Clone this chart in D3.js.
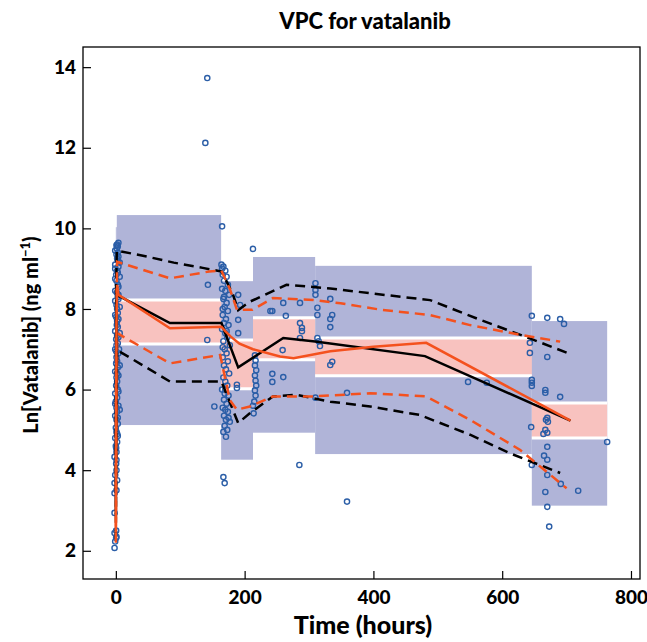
<!DOCTYPE html>
<html>
<head>
<meta charset="utf-8">
<script src="https://cdn.jsdelivr.net/npm/d3@7"></script>
<style>
  body { margin: 0; background: #fff; }
  text { font-family: Lato, "Open Sans", sans-serif; font-weight: 900; }
</style>
</head>
<body>
<div id="vis"></div>
<script>
// bins of the VPC (time in hours, value in ln ng/ml)
const binStart = [0, 1.5, 163.5, 213, 309.5, 646];
const binEnd = [1.5, 163.5, 213, 309.5, 646, 763];
const piLow = [4.9, 5.12, 4.26, 4.93, 4.4, 3.12];
const piHigh = [10.03, 10.33, 8.69, 9.29, 9.07, 7.7];
const ciLow = [null, 7.13, 6.02, 6.74, 6.34, 4.8];
const ciHigh = [null, 8.22, 7.23, 7.78, 7.28, 5.67];

// observed median and percentiles (black)
const obsMedT = [0, 0.5, 1.5, 84, 164, 190, 260, 309.5, 480, 706];
const obsMed = [2.9, 6.5, 8.35, 7.65, 7.65, 6.55, 7.28, 7.19, 6.83, 5.23];
const obsP95T = [0, 0.5, 1.5, 48, 90, 135, 164, 181, 190, 208, 265, 333, 395, 488, 566, 643, 706];
const obsP95 = [4.4, 8.6, 9.45, 9.3, 9.15, 9.02, 8.93, 8.4, 7.97, 8.18, 8.6, 8.51, 8.39, 8.22, 7.73, 7.27, 6.88];
const obsP5T = [0, 0.5, 2, 84, 164, 190, 208, 244, 280, 333, 395, 472, 550, 612, 690];
const obsP5 = [2.3, 4.5, 6.98, 6.2, 6.2, 5.17, 5.41, 5.83, 5.87, 5.7, 5.58, 5.37, 4.88, 4.42, 3.93];

// predicted median and percentiles (orange)
const predMedT = [0, 0.5, 1, 2, 4, 84, 164, 170, 178, 192, 213, 255, 276, 333, 400, 482, 706];
const predMed = [2.45, 5.5, 7.6, 8.6, 8.35, 7.52, 7.56, 7.45, 7.32, 7.14, 7.0, 6.82, 6.78, 6.95, 7.06, 7.16, 5.23];
const predP95T = [0, 0.5, 2, 84, 145, 164, 177, 188, 212, 244, 307, 349, 412, 488, 550, 628, 690];
const predP95 = [3.5, 7.5, 9.17, 8.76, 8.93, 8.95, 8.5, 7.98, 7.98, 8.27, 8.22, 8.14, 7.98, 7.85, 7.6, 7.36, 7.19];
const predP5T = [0, 0.5, 2, 84, 162, 177, 188, 208, 244, 307, 395, 482, 550, 628, 700];
const predP5 = [2.2, 4.0, 7.4, 6.65, 6.86, 5.74, 5.5, 5.58, 5.83, 5.83, 5.91, 5.83, 5.25, 4.5, 3.55];

// observations [time, ln conc]
const obsPoints = [
  [-2,2.07],[-1,2.23],[0.5,2.32],[1,2.35],[-2,2.44],[0.5,2.5],[-2,2.94],[-2,3.43],[1,3.5],[-2,3.68],
  [2,3.75],[-1,3.88],[1,4.0],[0.5,4.16],[-2,4.33],[1,4.45],[0,4.6],[2,4.7],[-1,4.8],[1,4.95],
  [0,5.05],[3,5.15],[1,5.25],[-1,5.35],[2,5.45],[1,5.55],[4,5.6],[0,5.7],[2,5.8],[-1,5.9],
  [3,6.0],[0.5,6.1],[2,6.2],[1,6.3],[4,6.35],[-1,6.45],[3,6.55],[0.5,6.65],[2,6.7],[1,6.8],
  [4,6.9],[-1,7.0],[1,7.1],[3,7.15],[0.5,7.25],[2,7.35],[6,7.4],[-1,7.45],[3,7.55],[1.5,7.6],
  [2,7.7],[4,7.75],[-1,7.85],[3,7.9],[2,8.0],[6,8.05],[1,8.1],[-1,8.2],[4,8.25],[3,8.3],
  [1.5,8.4],[-1,8.45],[4,8.55],[3,8.6],[1,8.7],[-1,8.75],[6,8.8],[3,8.9],[2,8.95],[4,9.05],
  [-1,9.1],[3,9.2],[2,9.25],[4,9.3],[3,9.4],[-1,9.45],[1.5,9.5],[3,9.55],[2,9.6],[4,9.64],
  [0.5,4.55],[2,4.9],[3,5.3],[-1,5.65],[4,5.95],[2,6.4],[0.5,6.95],[4,7.3],[0.5,7.8],[4,8.35],
  [0.5,8.85],[6,9.15],[1,9.35],[-1,9.0],[6,6.6],[6,5.5],[1,4.25],[3,4.85],[1,9.58],[5,7.0],
  [165,10.05],[164,9.1],[167,9.05],[170,8.95],[166,8.85],[172,8.8],[168,8.7],[174,8.6],[165,8.5],[170,8.45],
  [176,8.35],[167,8.25],[172,8.15],[169,8.05],[174,7.95],[166,7.85],[171,7.75],[168,7.65],[175,7.6],[165,7.5],
  [170,7.4],[173,7.3],[167,7.2],[177,7.1],[169,7.0],[172,6.9],[166,6.8],[174,6.7],[168,6.6],[171,6.5],
  [176,6.4],[167,6.3],[170,6.2],[173,6.1],[165,6.0],[169,5.9],[175,5.85],[168,5.75],[172,5.65],[166,5.55],
  [170,5.5],[174,5.45],[168,5.35],[171,5.25],[177,5.2],[169,5.1],[173,5.0],[167,4.95],[171,4.83],[167,3.83],
  [169,3.68],[166,8.0],[172,7.45],[166,7.05],[170,6.0],[175,5.3],[165,9.0],[168,8.3],
  [153,5.58],[142,7.23],[143,8.6],[142,13.73],[139,12.12],
  [190,8.35],[193,8.1],[190,7.73],[190,7.4],[188,6.12],[188,6.04],
  [213,9.49],[216,6.85],[217,6.72],[216,6.6],[218,6.48],[216,6.35],[217,6.22],[218,6.1],[216,5.98],[217,5.85],
  [215,5.7],[213,5.6],[214,5.41],
  [259,6.98],[243,6.39],[243,6.19],[260,6.31],[240,7.95],[243,7.95],[260,8.15],[286,8.15],[264,7.83],[286,7.65],
  [289,7.53],[289,7.45],[286,7.28],[285,4.13],
  [310,8.64],[310,8.47],[310,8.35],[313,8.03],[313,7.85],[313,7.28],[315,7.2],[317,7.08],[310,5.8],
  [333,8.25],[333,7.75],[336,7.85],[333,7.55],[336,6.69],[333,6.61],[359,5.92],[359,3.22],
  [547,6.19],[576,6.17],
  [646,7.83],[670,7.78],[690,7.75],[696,7.63],[643,7.16],[643,6.91],[670,6.81],[646,6.24],[646,6.17],[646,6.09],
  [667,5.99],[667,5.92],[690,5.82],[670,5.3],[671,5.2],[668,5.25],[645,5.07],[667,5.0],[664,4.9],[670,4.93],
  [763,4.7],[670,4.58],[665,4.36],[670,4.26],[646,4.13],[670,3.88],[691,3.66],[718,3.49],[667,3.46],[670,3.09],
  [673,2.6]
];

const xTicks = [0, 200, 400, 600, 800];
const yTicks = [2, 4, 6, 8, 10, 12, 14];

const WIDTH = 647, HEIGHT = 642;
const MARGINS = { left: 83, right: 7, top: 47, bottom: 63 };

const svg = d3.select("#vis")
  .append("svg")
  .attr("width", WIDTH)
  .attr("height", HEIGHT);

const X_SCALE = d3.scaleLinear()
  .domain([-51, 814])
  .range([MARGINS.left, WIDTH - MARGINS.right]);

const Y_SCALE = d3.scaleLinear()
  .domain([1.3, 14.5])
  .range([HEIGHT - MARGINS.bottom, MARGINS.top]);

const BLUE = "#b0b4d8";
const PINK = "#f8c2bf";
const ORANGE = "#f4511e";

const bins = binStart.map((s, i) => ({ s: s, e: binEnd[i], lo: piLow[i], hi: piHigh[i], clo: ciLow[i], chi: ciHigh[i] }));

// prediction intervals
svg.selectAll(".pi")
  .data(bins)
  .enter()
  .append("rect")
  .attr("class", "pi")
  .attr("x", d => X_SCALE(d.s))
  .attr("y", d => Y_SCALE(d.hi))
  .attr("width", d => X_SCALE(d.e) - X_SCALE(d.s))
  .attr("height", d => Y_SCALE(d.lo) - Y_SCALE(d.hi))
  .attr("fill", BLUE);

// confidence interval of the median
const ciBins = bins.filter(d => d.clo != null);
svg.selectAll(".ci")
  .data(ciBins)
  .enter()
  .append("rect")
  .attr("class", "ci")
  .attr("x", d => X_SCALE(d.s))
  .attr("y", d => Y_SCALE(d.chi))
  .attr("width", d => X_SCALE(d.e) - X_SCALE(d.s))
  .attr("height", d => Y_SCALE(d.clo) - Y_SCALE(d.chi))
  .attr("fill", PINK);

// white edges above and below the pink boxes
ciBins.forEach(d => {
  [d.chi, d.clo].forEach(v => {
    svg.append("line")
      .attr("x1", X_SCALE(d.s))
      .attr("x2", X_SCALE(d.e))
      .attr("y1", Y_SCALE(v))
      .attr("y2", Y_SCALE(v))
      .attr("stroke", "white")
      .attr("stroke-width", 3);
  });
});

// observations
svg.selectAll(".obs")
  .data(obsPoints)
  .enter()
  .append("circle")
  .attr("class", "obs")
  .attr("cx", d => X_SCALE(d[0]))
  .attr("cy", d => Y_SCALE(d[1]))
  .attr("r", 2.6)
  .attr("fill", "none")
  .attr("stroke", "#2b5ea7")
  .attr("stroke-width", 1.4);

const line = d3.line()
  .x(d => X_SCALE(d[0]))
  .y(d => Y_SCALE(d[1]));

function drawLine(ts, vs, color, dashed) {
  svg.append("path")
    .datum(ts.map((t, i) => [t, vs[i]]))
    .attr("d", line)
    .attr("fill", "none")
    .attr("stroke", color)
    .attr("stroke-width", 2.5)
    .attr("stroke-dasharray", dashed ? "10,6" : null);
}

drawLine(obsP95T, obsP95, "black", true);
drawLine(obsP5T, obsP5, "black", true);
drawLine(predP95T, predP95, ORANGE, true);
drawLine(predP5T, predP5, ORANGE, true);
drawLine(obsMedT, obsMed, "black", false);
drawLine(predMedT, predMed, ORANGE, false);

// axes with inward ticks
const xAxis = svg.append("g")
  .attr("transform", "translate(0," + (HEIGHT - MARGINS.bottom) + ")")
  .call(d3.axisBottom(X_SCALE).tickValues(xTicks).tickSize(-8).tickPadding(12));

const yAxis = svg.append("g")
  .attr("transform", "translate(" + MARGINS.left + ",0)")
  .call(d3.axisLeft(Y_SCALE).tickValues(yTicks).tickSize(-8).tickPadding(7));

[xAxis, yAxis].forEach(g => {
  g.select(".domain").remove();
  g.selectAll("text").attr("font-size", 19).attr("fill", "black")
    .style("font-family", "Lato, sans-serif").style("font-weight", "900");
  g.selectAll("line").attr("stroke", "black").attr("stroke-width", 1.2);
});

// frame
svg.append("rect")
  .attr("x", MARGINS.left)
  .attr("y", MARGINS.top)
  .attr("width", WIDTH - MARGINS.left - MARGINS.right)
  .attr("height", HEIGHT - MARGINS.top - MARGINS.bottom)
  .attr("fill", "none")
  .attr("stroke", "black")
  .attr("stroke-width", 1.3);

// titles
svg.append("text")
  .attr("x", 365)
  .attr("y", 29)
  .attr("text-anchor", "middle")
  .attr("font-size", 22)
  .text("VPC for vatalanib");

svg.append("text")
  .attr("x", 363)
  .attr("y", 634)
  .attr("text-anchor", "middle")
  .attr("font-size", 25)
  .text("Time (hours)");

const yLab = svg.append("text")
  .attr("transform", "translate(38," + 335 + ") rotate(-90)")
  .attr("text-anchor", "middle")
  .attr("font-size", 20);
yLab.append("tspan").text("Ln[Vatalanib] (ng ml");
yLab.append("tspan").attr("dy", -8).attr("font-size", 13).text("\u22121");
yLab.append("tspan").attr("dy", 8).text(")");
</script>
</body>
</html>
